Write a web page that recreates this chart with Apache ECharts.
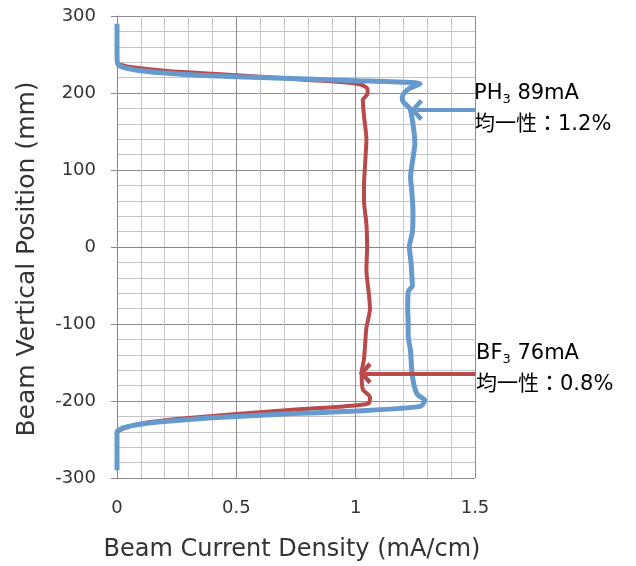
<!DOCTYPE html>
<html>
<head>
<meta charset="utf-8">
<script src="https://cdn.jsdelivr.net/npm/echarts@6/dist/echarts.min.js"></script>
<style>
  html, body { margin: 0; padding: 0; background: #fff; }
  #main { width: 636px; height: 566px; }
</style>
</head>
<body>
<div id="main"></div>
<script>
// BF3 profile (red), traced from top to bottom
var bf3X = [0, 0.05, 0.2, 0.4, 0.6, 0.8, 0.95, 1.02, 1.05, 1.05, 1.03, 1.035, 1.045, 1.04, 1.035, 1.035, 1.045, 1.048, 1.045, 1.055, 1.06, 1.045, 1.04, 1.035, 1.025, 1.03, 1.06, 1.055, 0.95, 0.75, 0.5, 0.3, 0.15, 0.05, 0];
var bf3Y = [238, 234, 229, 225, 221, 217, 214, 211, 205, 199, 191, 170, 140, 110, 80, 60, 30, 0, -30, -60, -80, -105, -125, -145, -164, -185, -195, -203, -207, -211, -217, -222, -227, -233, -240];

// PH3 profile (blue)
var ph3X = [0, 0, 0.003, 0.03, 0.1, 0.2, 0.35, 0.5, 0.7, 1.0, 1.2, 1.27, 1.22, 1.195, 1.2, 1.227, 1.24, 1.248, 1.24, 1.23, 1.236, 1.24, 1.238, 1.225, 1.232, 1.236, 1.238, 1.22, 1.218, 1.22, 1.22, 1.23, 1.235, 1.245, 1.26, 1.29, 1.27, 1.0, 0.7, 0.5, 0.3, 0.15, 0.05, 0, 0];
var ph3Y = [290, 250, 238, 233, 229, 226, 223, 221, 219, 216, 214, 212, 205, 195, 188, 180, 160, 135, 115, 91, 70, 45, 20, 0, -20, -40, -50, -58, -80, -100, -115, -135, -160, -180, -192, -199, -207, -213, -217, -220, -224, -228, -233, -240, -290];

// arrows pointing at each profile (end point sits behind the chevron tip)
var ph3Arrow = [[1.5, 178], [1.255, 178]];
var bf3Arrow = [[1.5, -164], [1.04, -164]];

var yTicks = [-300, -200, -100, 0, 100, 200, 300];
var xTicks = [0, 0.5, 1, 1.5];

var blue = '#6699cc';
var red = '#b94a4c';
var chevron = 'path://M10,0 L20,9 L17,12 L10,5.5 L3,12 L0,9 Z';

function toPairs(xs, ys) {
    return xs.map(function (x, i) { return [x, ys[i]]; });
}

function noteStyle(text) {
    return {
        text: text,
        rich: {
            a: { fontSize: 21, color: '#333', lineHeight: 31, fontFamily: 'DejaVu Sans, Noto Sans CJK JP' },
            s: { fontSize: 13, color: '#333', lineHeight: 31, padding: [12, 0, 0, 0], fontFamily: 'DejaVu Sans' }
        }
    };
}

var chart = echarts.init(document.getElementById('main'));

var option = {
    animation: false,
    textStyle: { fontFamily: 'DejaVu Sans, Noto Sans CJK JP' },
    grid: { left: 117, right: 161, top: 16, bottom: 88, outerBoundsMode: 'none' },
    xAxis: {
        type: 'value',
        min: xTicks[0],
        max: xTicks[xTicks.length - 1],
        interval: 0.5,
        name: 'Beam Current Density (mA/cm)',
        nameLocation: 'middle',
        nameGap: 60,
        nameTextStyle: { fontSize: 24, color: '#333', padding: [0, 8, 0, 0] },
        axisLine: { show: true, lineStyle: { color: '#888' } },
        axisTick: { show: false },
        axisLabel: { fontSize: 18, color: '#333', margin: 21 },
        splitLine: { show: true, lineStyle: { color: '#8c8c8c', width: 1 } },
        minorTick: { show: false, splitNumber: 5 },
        minorSplitLine: { show: true, lineStyle: { color: '#c4c4c4', width: 1 } }
    },
    yAxis: {
        type: 'value',
        min: yTicks[0],
        max: yTicks[yTicks.length - 1],
        interval: 100,
        name: 'Beam Vertical Position (mm)',
        nameLocation: 'middle',
        nameGap: 77,
        nameTextStyle: { fontSize: 25, color: '#333', padding: [0, 24, 0, 0] },
        axisLine: { show: true, lineStyle: { color: '#888' } },
        axisTick: { show: true, length: 6, lineStyle: { color: '#888' } },
        axisLabel: { fontSize: 18, color: '#333', margin: 21 },
        splitLine: { show: true, lineStyle: { color: '#8c8c8c', width: 1 } },
        minorTick: { show: false, splitNumber: 5 },
        minorSplitLine: { show: true, lineStyle: { color: '#c4c4c4', width: 1 } }
    },
    series: [
        {
            name: 'BF3',
            type: 'line',
            data: toPairs(bf3X, bf3Y),
            smooth: 0.25,
            symbol: 'none',
            lineStyle: { color: red, width: 4 },
            z: 3,
            markLine: {
                silent: true,
                symbol: ['none', chevron],
                symbolSize: [22, 13],
                label: { show: false },
                lineStyle: { color: red, width: 4, type: 'solid' },
                data: [[{ coord: bf3Arrow[0] }, { coord: bf3Arrow[1] }]]
            }
        },
        {
            name: 'PH3',
            type: 'line',
            data: toPairs(ph3X, ph3Y),
            smooth: 0.25,
            symbol: 'none',
            lineStyle: { color: blue, width: 5 },
            z: 4,
            markLine: {
                silent: true,
                symbol: ['none', chevron],
                symbolSize: [22, 13],
                label: { show: false },
                lineStyle: { color: blue, width: 4, type: 'solid' },
                data: [[{ coord: ph3Arrow[0] }, { coord: ph3Arrow[1] }]]
            }
        }
    ],
    graphic: [
        { type: 'text', left: 474, top: 81, style: noteStyle('{a|PH}{s|3}{a| 89mA}\n{a|均一性：1.2%}') },
        { type: 'text', left: 476, top: 341, style: noteStyle('{a|BF}{s|3}{a| 76mA}\n{a|均一性：0.8%}') }
    ]
};

chart.setOption(option);
</script>
</body>
</html>
